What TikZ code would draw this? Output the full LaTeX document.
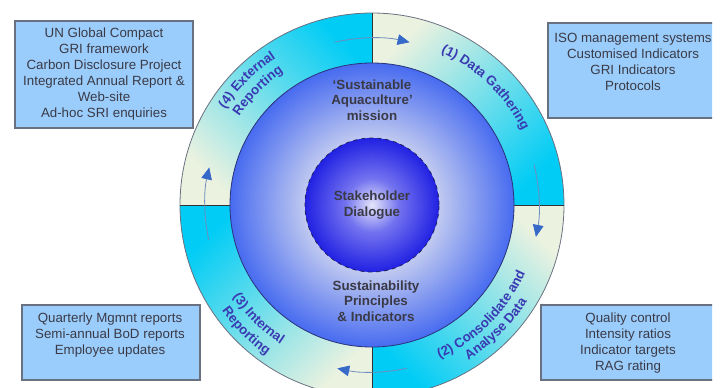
\documentclass[tikz,border=0pt]{standalone}
\usepackage{fontspec}
\setmainfont{Liberation Sans}
\usetikzlibrary{arrows.meta,decorations.text}

\definecolor{ringcyan}{RGB}{0,204,245}
\definecolor{ringpale}{RGB}{236,242,224}
\definecolor{boxblue}{RGB}{155,205,252}
\definecolor{boxline}{RGB}{105,112,128}
\definecolor{labelblue}{RGB}{58,58,178}
\definecolor{darktext}{RGB}{58,58,70}
\definecolor{arcline}{RGB}{110,140,190}
\definecolor{tipblue}{RGB}{55,105,200}

\pgfdeclareradialshading{missionshade}{\pgfpoint{0bp}{0bp}}{rgb(0bp)=(0.80,0.83,0.95); rgb(11bp)=(0.78,0.81,0.94); rgb(25bp)=(0.28,0.42,0.94); rgb(50bp)=(0.28,0.42,0.94)}
\pgfdeclareradialshading{hubshade}{\pgfpoint{0bp}{0bp}}{rgb(0bp)=(0.90,0.90,0.98); rgb(10bp)=(0.45,0.45,0.94); rgb(25bp)=(0.13,0.13,0.89); rgb(50bp)=(0.13,0.13,0.89)}

\newcommand\ringfont{\fontsize{10}{12}\selectfont\bfseries\color{labelblue}}

\begin{document}
\begin{tikzpicture}[x=0.75pt, y=0.75pt,
  listbox/.style={fill=boxblue, draw=boxline, line width=0.8pt},
  listtext/.style={align=center, inner sep=0pt, text=darktext, font=\fontsize{10}{12}\selectfont},
  midtext/.style={align=center, inner sep=0pt, text=darktext, font=\fontsize{10}{11.6}\selectfont\bfseries},
  flow/.style={draw=arcline, line width=0.6pt, -{Triangle[length=9pt,width=8pt,color=tipblue]}},
  divider/.style={draw=black!80, line width=0.7pt},
  steplabel/.style={decorate, decoration={text along path, text align=center, text={|\ringfont|#1}}}]

\useasboundingbox (-372,-182) rectangle (351,205);
\begin{scope}
\clip (-372,-182) rectangle (340,205);

\shade[top color=ringpale, bottom color=ringcyan, shading angle=45] (90:142) -- (90:192) arc[start angle=90, end angle=0, radius=192] -- (0:142) arc[start angle=0, end angle=90, radius=142] -- cycle;
\shade[top color=ringpale, bottom color=ringcyan, shading angle=-45] (0:142) -- (0:192) arc[start angle=0, end angle=-90, radius=192] -- (-90:142) arc[start angle=-90, end angle=0, radius=142] -- cycle;
\shade[top color=ringpale, bottom color=ringcyan, shading angle=-135] (-90:142) -- (-90:192) arc[start angle=-90, end angle=-180, radius=192] -- (-180:142) arc[start angle=-180, end angle=-90, radius=142] -- cycle;
\shade[top color=ringpale, bottom color=ringcyan, shading angle=135] (180:142) -- (180:192) arc[start angle=180, end angle=90, radius=192] -- (90:142) arc[start angle=90, end angle=180, radius=142] -- cycle;
\draw[draw=boxline, line width=0.6pt] (0,0) circle (192);
\draw[divider] (90:142) -- (90:192);
\draw[divider] (0:142) -- (0:192);
\draw[divider] (-90:142) -- (-90:192);
\draw[divider] (180:142) -- (180:192);

\draw[flow] (103:167) arc[start angle=103, end angle=77, radius=167];
\draw[flow] (14:167) arc[start angle=14, end angle=-11, radius=167];
\draw[flow] (-78:167) arc[start angle=-78, end angle=-102, radius=167];
\draw[flow] (192:167) arc[start angle=192, end angle=167, radius=167];

\path[steplabel={(1) Data Gathering}] (86:167.5) arc[start angle=86, end angle=6, radius=167.5];
\path[steplabel={(4) External}] (175:175.5) arc[start angle=175, end angle=95, radius=175.5];
\path[steplabel={Reporting}] (175:159.5) arc[start angle=175, end angle=95, radius=159.5];
\path[steplabel={(2) Consolidate and}] (-85:167.5) arc[start angle=-85, end angle=-5, radius=167.5];
\path[steplabel={Analyse Data}] (-85:182.5) arc[start angle=-85, end angle=-5, radius=182.5];
\path[steplabel={(3) Internal}] (185:166.5) arc[start angle=185, end angle=265, radius=166.5];
\path[steplabel={Reporting}] (185:183.5) arc[start angle=185, end angle=265, radius=183.5];

\node[circle, minimum size=213pt, inner sep=0pt, shade, shading=missionshade, draw={rgb,255:red,40;green,50;blue,120}, line width=0.6pt] (core) at (0,0) {};
\node[circle, minimum size=100.5pt, inner sep=0pt, shade, shading=hubshade, draw={rgb,255:red,30;green,30;blue,90}, dashed, line width=0.6pt, midtext] (hub) at (0,0) {Stakeholder\\Dialogue};
\node[midtext] (mission) at (0,105) {`Sustainable\\Aquaculture'\\mission};
\node[midtext] (principles) at (4,-96) {Sustainability\\Principles\\\& Indicators};

\draw[listbox] (-357,77) rectangle (-179,184);
\node[listtext] (external list) at (-268,131) {UN Global Compact\\GRI framework\\Carbon Disclosure Project\\Integrated Annual Report \&\\Web-site\\Ad-hoc SRI enquiries};
\draw[listbox] (176,87) rectangle (346,182);
\node[listtext] (gathering list) at (261,143) {ISO management systems\\Customised Indicators\\GRI Indicators\\Protocols};
\draw[listbox] (-350,-175) rectangle (-172,-100);
\node[listtext] (internal list) at (-262,-130.5) {Quarterly Mgmnt reports\\Semi-annual BoD reports\\Employee updates};
\draw[listbox] (169,-175) rectangle (343,-100);
\node[listtext] (analyse list) at (256,-138) {Quality control\\Intensity ratios\\Indicator targets\\RAG rating};
\end{scope}
\end{tikzpicture}
\end{document}
